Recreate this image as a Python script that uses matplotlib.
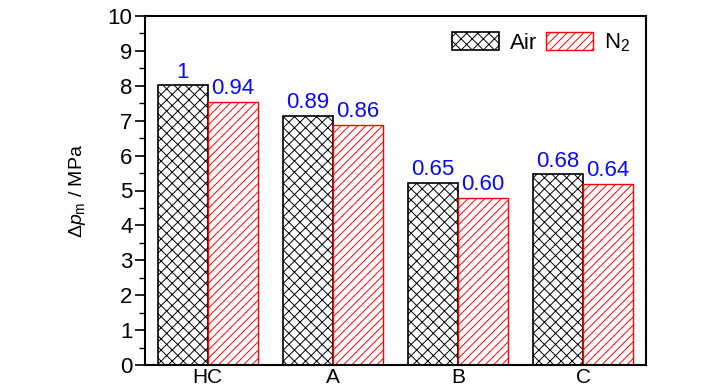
import matplotlib
matplotlib.use("Agg")
import matplotlib.pyplot as plt
from matplotlib.ticker import MultipleLocator
import numpy as np

categories = ["HC", "A", "B", "C"]
air_values = [8.01, 7.13, 5.22, 5.46]
n2_values = [7.55, 6.87, 4.79, 5.18]
air_labels = ["1", "0.89", "0.65", "0.68"]
n2_labels = ["0.94", "0.86", "0.60", "0.64"]

plt.rcParams['font.family'] = ['Liberation Sans Narrow', 'Liberation Sans', 'DejaVu Sans']
plt.rcParams['hatch.linewidth'] = 0.7
plt.rcParams['mathtext.fontset'] = 'custom'
plt.rcParams['mathtext.rm'] = 'Liberation Sans'
plt.rcParams['mathtext.it'] = 'Liberation Sans:italic'

fig = plt.figure(figsize=(7.28, 3.9), dpi=100)
ax = fig.add_axes([145/728, 25/390, 500.7/728, 349/390])

x = np.arange(len(categories))
w = 0.4
b1 = ax.bar(x - w/2, air_values, w, facecolor='white', edgecolor='black',
            hatch='xxx', linewidth=1.2, label='Air')
b2 = ax.bar(x + w/2, n2_values, w, facecolor='white', edgecolor='red',
            hatch='////', linewidth=1.0, label=r'N$_2$')
ax.bar_label(b1, labels=air_labels, padding=2, color='#0a0af0', fontsize=16)
ax.bar_label(b2, labels=n2_labels, padding=2, color='#0a0af0', fontsize=16)

ax.set_xlim(-0.5, 3.5)
ax.set_ylim(0, 10)
ax.set_xticks(x)
ax.set_xticklabels(categories, fontsize=15)
ax.tick_params(axis='x', length=0, pad=2)
ax.yaxis.set_major_locator(MultipleLocator(1))
ax.yaxis.set_minor_locator(MultipleLocator(0.5))
ax.tick_params(axis='y', which='major', direction='out', length=7, width=1.2, labelsize=16, pad=2)
ax.tick_params(axis='y', which='minor', direction='out', length=4, width=1.0)
for s in ax.spines.values():
    s.set_linewidth(1.5)

ax.set_ylabel(r'$\Delta p_{\rm m}$ / MPa', fontsize=14, labelpad=14)

ax.legend(loc='upper right', ncol=2, frameon=False, fontsize=16,
          handlelength=2.1, handleheight=0.9, columnspacing=0.4,
          handletextpad=0.5, borderaxespad=0.3, bbox_to_anchor=(1.0, 1.0))

fig.savefig("out.png", dpi=100)
